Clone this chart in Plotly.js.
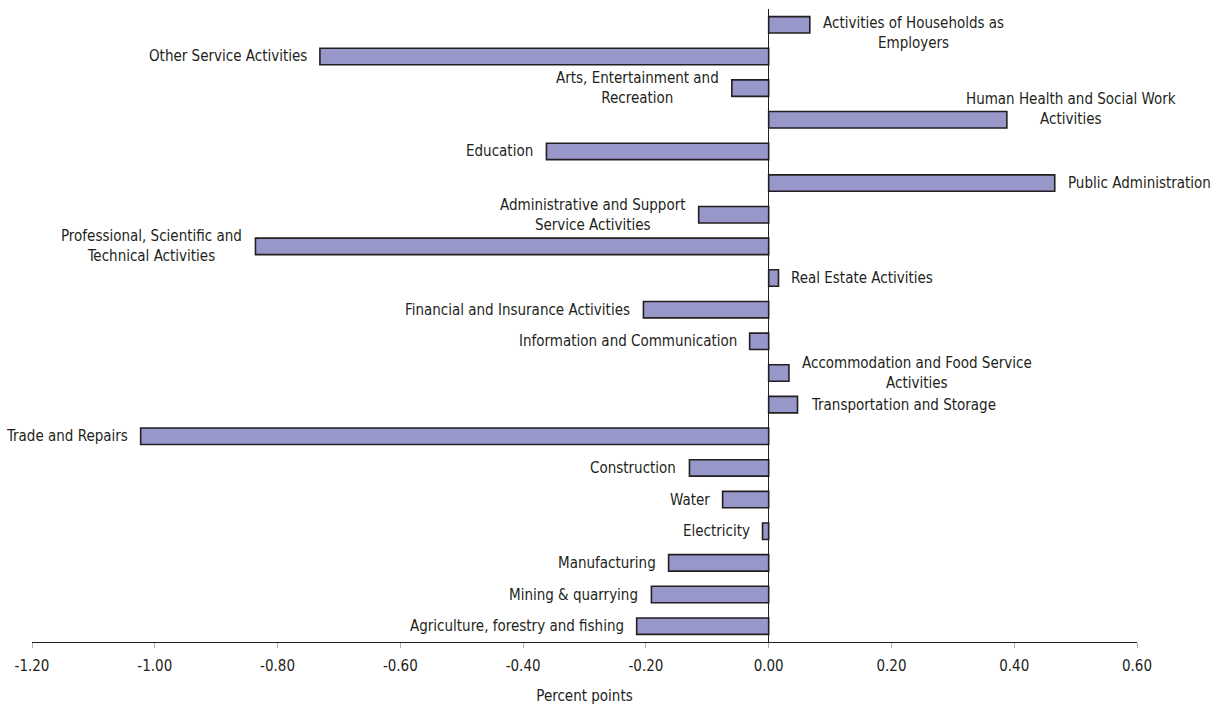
<!DOCTYPE html>
<html>
<head>
<meta charset="utf-8">
<script src="https://cdn.plot.ly/plotly-3.0.1.min.js"></script>
<style>
html,body{margin:0;padding:0;background:#fff;}
#chart{width:1220px;height:709px;}
</style>
</head>
<body>
<div id="chart"></div>
<script>
// Categories from bottom to top
const categories = [
  "Agriculture, forestry and fishing",
  "Mining & quarrying",
  "Manufacturing",
  "Electricity",
  "Water",
  "Construction",
  "Trade and Repairs",
  "Transportation and Storage",
  "Accommodation and Food Service<br>Activities",
  "Information and Communication",
  "Financial and Insurance Activities",
  "Real Estate Activities",
  "Professional, Scientific and<br>Technical Activities",
  "Administrative and Support<br>Service Activities",
  "Public Administration",
  "Education",
  "Human Health and Social Work<br>Activities",
  "Arts, Entertainment and<br>Recreation",
  "Other Service Activities",
  "Activities of Households as<br>Employers"
];
const values = [
  -0.215, -0.191, -0.163, -0.010, -0.075, -0.129, -1.023, 0.047, 0.033, -0.031,
  -0.204, 0.016, -0.836, -0.114, 0.466, -0.362, 0.388, -0.060, -0.731, 0.067
];
const tickVals = [-1.2, -1.0, -0.8, -0.6, -0.4, -0.2, 0, 0.2, 0.4, 0.6];
const tickText = ["-1.20", "-1.00", "-0.80", "-0.60", "-0.40", "-0.20", "0.00", "0.20", "0.40", "0.60"];

const FONT = "'Liberation Sans Narrow', 'Arial Narrow', 'DejaVu Sans Condensed', sans-serif";
const TXT = "#231f20";

// label placement tweaks (styling, by category index)
const special = {
  16: {xanchor: "left", xshift: -43, yshift: 11},
  19: {xanchor: "left", xshift: 11, yshift: -8}
};

const yIdx = categories.map((c, i) => i);

const annotations = categories.map((c, i) => {
  const v = values[i];
  const neg = v < 0;
  const a = {
    x: v, y: i, xref: "x", yref: "y",
    text: c, showarrow: false,
    xanchor: neg ? "right" : "left",
    xshift: neg ? -11 : 11,
    yshift: 0,
    align: "center",
    font: {family: FONT, size: 15, color: TXT}
  };
  if (special[i]) Object.assign(a, special[i]);
  return a;
});

const trace = {
  type: "bar",
  orientation: "h",
  x: values,
  y: yIdx,
  marker: {color: "#9797ca", line: {color: "#231f20", width: 1.6}},
  hoverinfo: "x"
};

const layout = {
  width: 1220, height: 709,
  margin: {l: 32, r: 83, t: 9, b: 67},
  paper_bgcolor: "#fff", plot_bgcolor: "#fff",
  bargap: 0.48,
  showlegend: false,
  font: {family: FONT, size: 15, color: TXT},
  xaxis: {
    range: [-1.2, 0.6],
    tickvals: tickVals, ticktext: tickText,
    showgrid: false,
    zeroline: true, zerolinecolor: "#231f20", zerolinewidth: 1.2,
    showline: true, linecolor: "#231f20", linewidth: 1.4,
    ticks: "outside", ticklen: 5, tickcolor: "#b0b0b0", tickwidth: 1,
    ticklabelstandoff: 5,
    tickfont: {family: FONT, size: 15, color: TXT},
    title: {text: "Percent points", font: {family: FONT, size: 15, color: TXT}, standoff: 16}
  },
  yaxis: {
    range: [-0.5, 19.5],
    showticklabels: false, showgrid: false, zeroline: false, showline: false, ticks: ""
  },
  annotations: annotations
};

Plotly.newPlot("chart", [trace], layout, {displayModeBar: false, staticPlot: true});
</script>
</body>
</html>
